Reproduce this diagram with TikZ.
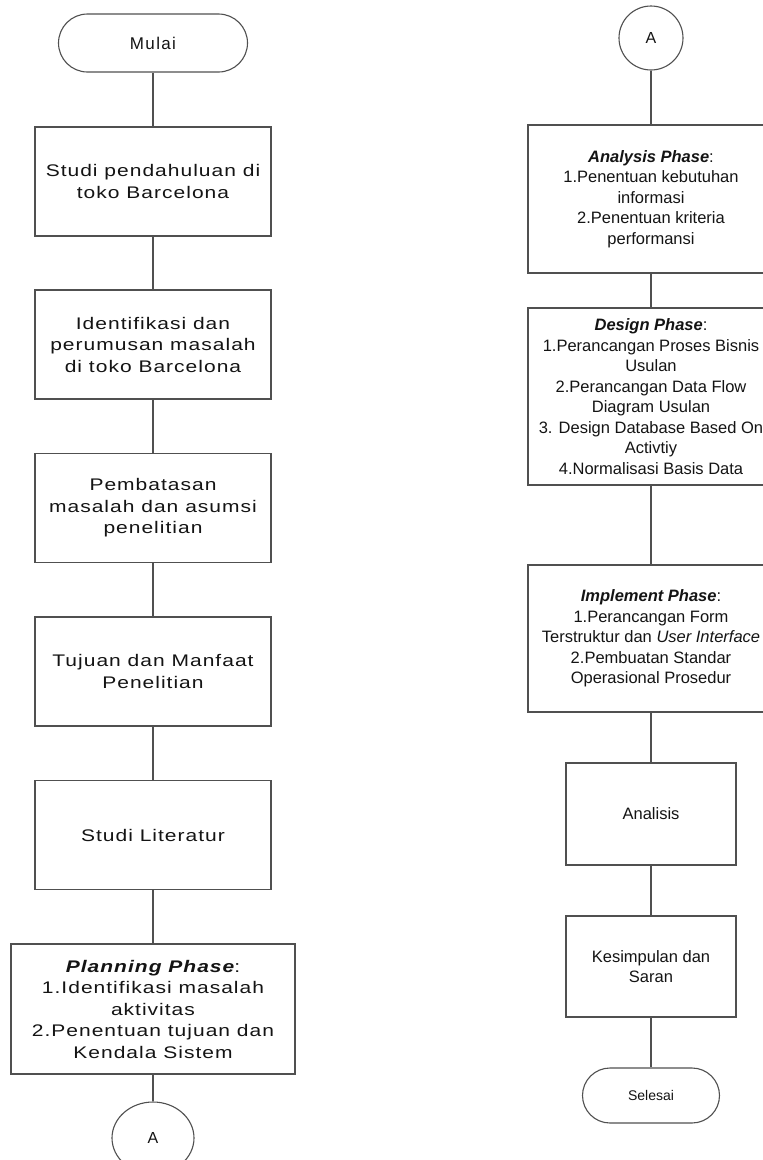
\documentclass[tikz,border=0pt]{standalone}
\usepackage{fontspec}
\setmainfont{Liberation Sans}
\newfontfamily\leftfont[FakeStretch=1.25, LetterSpace=6]{Liberation Sans}
\newfontfamily\mulaifont[LetterSpace=8]{Liberation Sans}
\usetikzlibrary{shapes.geometric}
\definecolor{linegray}{HTML}{505050}
\definecolor{textcol}{HTML}{141414}
\tikzset{
  base/.style={draw=linegray, line width=1.1pt, fill=white, align=center, inner sep=0pt, text=textcol},
  leftbox/.style={base, minimum width=236pt, minimum height=109pt, font=\leftfont\fontsize{16.8}{21.5}\selectfont},
  rightbox/.style={base, minimum width=246pt, font=\fontsize{16.5}{20.5}\selectfont},
  smallbox/.style={base, minimum width=170pt, font=\fontsize{16.5}{20.5}\selectfont},
  conn/.style={draw=linegray, line width=1.1pt},
}
\begin{document}
\begin{tikzpicture}[x=1pt, y=-1pt]
\useasboundingbox (0,0) rectangle (763,1160);
\clip (0,0) rectangle (763,1160);
\fill[white] (0,0) rectangle (763,1160);
% left column
\node[base, minimum width=189pt, minimum height=58pt, rounded corners=29pt, font=\mulaifont\fontsize{17}{20}\selectfont] (mulai) at (153,43) {Mulai};
\node[leftbox] (b1) at (153,181.5) {Studi pendahuluan di\\toko Barcelona};
\node[leftbox] (b2) at (153,344.5) {Identifikasi dan\\perumusan masalah\\di toko Barcelona};
\node[leftbox] (b3) at (153,508) {Pembatasan\\masalah dan asumsi\\penelitian};
\node[leftbox] (b4) at (153,671.5) {Tujuan dan Manfaat\\Penelitian};
\node[leftbox] (b5) at (153,835) {Studi Literatur};
\node[leftbox, minimum width=284pt, minimum height=130pt] (b6) at (153,1009) {{\bfseries\itshape Planning Phase}:\\1.Identifikasi masalah\\aktivitas\\2.Penentuan tujuan dan\\Kendala Sistem};
\node[base, ellipse, minimum width=82pt, minimum height=72pt, font=\fontsize{16}{19}\selectfont] (a1) at (153,1138) {A};
\draw[conn] (mulai) -- (b1);
\draw[conn] (b1) -- (b2);
\draw[conn] (b2) -- (b3);
\draw[conn] (b3) -- (b4);
\draw[conn] (b4) -- (b5);
\draw[conn] (b5) -- (b6);
\draw[conn] (b6) -- (a1);
% right column
\node[base, circle, minimum size=64pt, font=\fontsize{16}{19}\selectfont] (a2) at (651,38) {A};
\node[rightbox, minimum height=148pt] (r1) at (651,199) {{\bfseries\itshape Analysis Phase}:\\1.Penentuan kebutuhan\\informasi\\2.Penentuan kriteria\\performansi};
\node[rightbox, minimum height=177pt] (r2) at (651,396.5) {{\bfseries\itshape Design Phase}:\\1.Perancangan Proses Bisnis\\Usulan\\2.Perancangan Data Flow\\Diagram Usulan\\3. Design Database Based On\\Activtiy\\4.Normalisasi Basis Data};
\node[rightbox, minimum height=147pt] (r3) at (651,638.5) {{\bfseries\itshape Implement Phase}:\\1.Perancangan Form\\Terstruktur dan \textit{User Interface}\\2.Pembuatan Standar\\Operasional Prosedur};
\node[smallbox, minimum height=102pt] (r4) at (651,814) {Analisis};
\node[smallbox, minimum height=101pt] (r5) at (651,966.5) {Kesimpulan dan\\Saran};
\node[base, minimum width=137pt, minimum height=55pt, rounded corners=27.5pt, font=\fontsize{14}{17}\selectfont] (r6) at (651,1095.5) {Selesai};
\draw[conn] (a2) -- (r1);
\draw[conn] (r1) -- (r2);
\draw[conn] (r2) -- (r3);
\draw[conn] (r3) -- (r4);
\draw[conn] (r4) -- (r5);
\draw[conn] (r5) -- (r6);
\end{tikzpicture}
\end{document}
